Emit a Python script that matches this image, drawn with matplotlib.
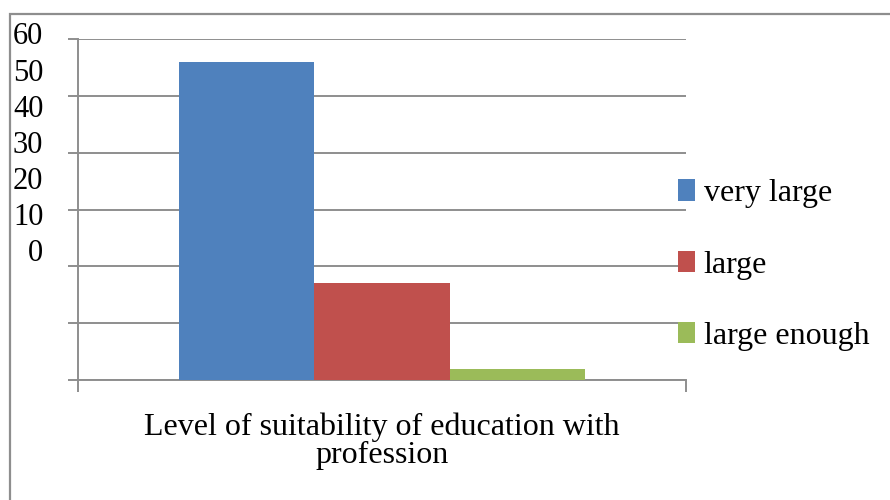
import matplotlib
matplotlib.use("Agg")
import matplotlib.pyplot as plt
from matplotlib.patches import Patch, Rectangle

plt.rcParams['font.family'] = ['Liberation Serif', 'DejaVu Serif']

category = ['Level of suitability of education with\nprofession']
series_names = ['very large', 'large', 'large enough']
series_values = [56, 17, 2]
series_colors = ['#4F81BD', '#C0504D', '#9BBB59']
ytick_values = [0, 10, 20, 30, 40, 50, 60]
ytick_labels = ['0', '10', '20', '30', '40', '50', '60']

W, H = 890, 500
fig = plt.figure(figsize=(W / 100, H / 100), dpi=100)
GRID = '#8e8e8e'

# main plot area
x0, x1, ytop, ybot = 78, 686, 39.3, 380
ax = fig.add_axes([x0 / W, 1 - ybot / H, (x1 - x0) / W, (ybot - ytop) / H])
ax.set_xlim(-0.5, 0.5)
ax.set_ylim(0, 60)

bw = 0.668 / 3
for i, (name, val, col) in enumerate(zip(series_names, series_values, series_colors)):
    ax.bar(0 + (i - 1) * bw, val, width=bw, color=col, zorder=3, label=name)

ax.set_yticks(ytick_values)
ax.set_yticklabels([''] * len(ytick_values))
ax.yaxis.grid(True, color=GRID, lw=1.4, zorder=1)
ax.tick_params(axis='y', length=7.2, width=1.4, color=GRID, direction='out')

ax.set_xticks([0])
ax.set_xticklabels(category, fontsize=23, linespacing=0.95)
ax.tick_params(axis='x', which='major', length=0, pad=23.5)
ax.set_xticks([-0.5, 0.5], minor=True)
ax.tick_params(axis='x', which='minor', length=8.6, width=1.4, color=GRID, direction='out')

for s in ['top', 'right']:
    ax.spines[s].set_visible(False)
for s in ['left', 'bottom']:
    ax.spines[s].set_color(GRID)
    ax.spines[s].set_linewidth(1.4)
ax.set_axisbelow(True)

# misplaced value labels, as in the original
ly_top, ly_bot = 33.5, 250
lab = fig.add_axes([x0 / W, 1 - ly_bot / H, 0.01, (ly_bot - ly_top) / H])
lab.set_ylim(0, 60)
lab.set_yticks(ytick_values)
lab.set_yticklabels(ytick_labels, fontsize=22)
lab.tick_params(axis='y', length=0, pad=25)
lab.set_xticks([])
for s in lab.spines.values():
    s.set_visible(False)
lab.patch.set_visible(False)

# legend
handles = [Patch(facecolor=c, edgecolor='none') for c in series_colors]
leg = fig.legend(handles, series_names, loc='center left',
                 bbox_to_anchor=(678 / W, 1 - 265 / H), frameon=False,
                 fontsize=23, borderpad=0, borderaxespad=0,
                 handlelength=0.53, handleheight=0.66, handletextpad=0.28,
                 labelspacing=1.32)

# outer chart frame (only top and left edges visible)
fig.patches.append(Rectangle((9.5 / W, -0.2), 2, 1 - 14 / H + 0.2, fill=False,
                             edgecolor=GRID, lw=1.6, transform=fig.transFigure))

fig.savefig('out.png', dpi=100)
